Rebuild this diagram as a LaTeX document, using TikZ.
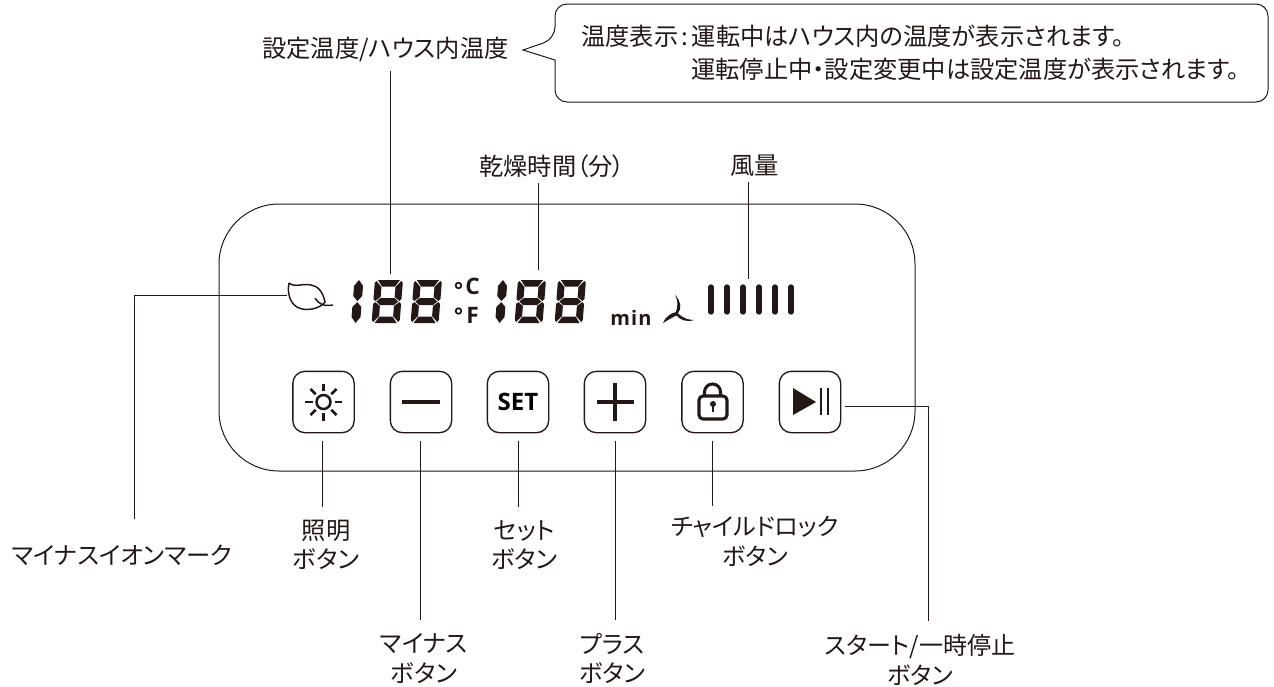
\documentclass[tikz,border=0pt]{standalone}
\usepackage{fontspec}
\setmainfont{Noto Sans CJK JP}[RawFeature=+palt]
\newfontfamily\panelfont{Open Sans}[BoldFont=* Bold]
\usetikzlibrary{positioning}

\definecolor{ink}{RGB}{35,24,21}

% one tall segment pair and a whole figure of the display
\newcommand{\lcdone}[1]{
	\begin{scope}[shift={(#1,280)},xslant=0.08]
		\fill[ink] (6,0) -- (10.5,6) -- (10.5,16) -- (6,21) -- (1.5,16) -- (1.5,6) -- cycle;
		\fill[ink] (6,22) -- (10.5,27) -- (10.5,37) -- (6,43) -- (1.5,37) -- (1.5,27) -- cycle;
	\end{scope}
}
\newcommand{\lceight}[1]{
	\begin{scope}[shift={(#1,280)},xslant=0.08]
		\fill[ink] (3,0) -- (25,0) -- (20.5,6.5) -- (7.5,6.5) -- cycle;
		\fill[ink] (3,43) -- (25,43) -- (20.5,36.5) -- (7.5,36.5) -- cycle;
		\fill[ink] (3,21.5) -- (7,18) -- (21,18) -- (25,21.5) -- (21,25) -- (7,25) -- cycle;
		\fill[ink] (1.5,1) -- (7,7) -- (7,17) -- (2,20.9) -- (0,19) -- (0,3) -- cycle;
		\fill[ink] (26.5,1) -- (21,7) -- (21,17) -- (26,20.9) -- (28,19) -- (28,3) -- cycle;
		\fill[ink] (1.5,42) -- (7,36) -- (7,26) -- (2,22.1) -- (0,24) -- (0,40) -- cycle;
		\fill[ink] (26.5,42) -- (21,36) -- (21,26) -- (26,22.1) -- (28,24) -- (28,40) -- cycle;
	\end{scope}
}

\begin{document}
\begin{tikzpicture}[x=0.75pt,y=-0.75pt,
	lead/.style={draw=ink,line width=0.75pt},
	btn/.style={draw=ink,line width=1pt,rounded corners=9pt,minimum size=46pt,inner sep=0pt},
	icon/.style={draw=ink,line width=2.3pt},
	lbl/.style={text=ink,font=\fontsize{18.2}{22}\selectfont,align=center,inner sep=0pt},
	note/.style={text=ink,font=\fontsize{18.2}{22}\selectfont,anchor=west,inner sep=0pt},
	lcdtext/.style={text=ink,inner sep=0pt}]
	
	\useasboundingbox (0,0) rectangle (1274,686);
	
	% panel and note
	\draw[lead,rounded corners=45pt] (219,204) rectangle (915,471);
	\draw[lead,rounded corners=9pt] (555,60) -- (555,102) -- (1268,102) -- (1268,4) -- (555,4) -- (555,39)
	[sharp corners] -- (523,50) -- cycle;
	\node[note] (noteA) at (581,36) {温度表示\kern2.5pt:\kern2.5pt 運転中はハウス内の温度が表示されます。};
	\node[note] (noteB) at (691,69) {運転停止中・設定変更中は設定温度が表示されます。};
	
	% labels
	\node[lbl] (lblTemp) at (385.5,49) {設定温度/ハウス内温度};
	\node[lbl] (lblTime) at (552,166) {乾燥時間（分）};
	\node[lbl] (lblWind) at (754.5,166) {風量};
	\node[lbl] (lblIon) at (122,555) {マイナスイオンマーク};
	\node[lbl] (lblLight) at (326,545) {照明\\ボタン};
	\node[lbl] (lblMinus) at (424,658.5) {マイナス\\ボタン};
	\node[lbl] (lblSet) at (524.5,545) {セット\\ボタン};
	\node[lbl] (lblPlus) at (612.5,658.5) {プラス\\ボタン};
	\node[lbl,font=\fontsize{18}{22.5}\selectfont] (lblLock) at (755,541) {チャイルドロック\\ボタン};
	\node[lbl,font=\fontsize{18}{22.5}\selectfont] (lblStart) at (920,660) {スタート/一時停止\\ボタン};
	
	% buttons
	\node[btn] (btnLight) at (323.5,402) {};
	\node[btn] (btnMinus) at (421,402) {};
	\node[btn] (btnSet) at (518,402) {\panelfont\bfseries\fontsize{18}{18}\selectfont SET};
	\node[btn] (btnPlus) at (615,402) {};
	\node[btn] (btnLock) at (712.5,402) {};
	\node[btn] (btnStart) at (810,402) {};
	
	% icons on the buttons
	\draw[icon,line width=1.9pt] (btnLight.center) circle (7);
	\foreach \ang in {0,45,...,315}
		\draw[icon,line width=1.9pt] (btnLight.center) ++(\ang:11) -- ++(\ang:7.5);
	\draw[icon] (401.5,402) -- (440,402);
	\draw[icon] (597,402) -- (634,402);
	\draw[icon] (615,383) -- (615,421);
	\draw[icon,rounded corners=3pt] (699,396) rectangle (727,419);
	\draw[icon] (704.5,396) -- (704.5,392) arc[start angle=180,end angle=0,x radius=8,y radius=-8] -- (720.5,396);
	\fill[ink] (713,404) circle (3);
	\draw[icon,line width=2pt] (713,404) -- (713,412);
	\fill[ink] (793,388) -- (816,402) -- (793,415) -- cycle;
	\foreach \xx in {821,828}
		\draw[icon,line width=2.2pt] (\xx,388) -- (\xx,415);
	
	% display
	\lcdone{353} \lceight{375} \lceight{414}
	\lcdone{497} \lceight{518} \lceight{558}
	\draw[ink,line width=1.3pt] (458.5,285.5) circle (2.8);
	\draw[ink,line width=1.3pt] (458.5,311) circle (2.8);
	\node[lcdtext,font=\panelfont\bfseries\fontsize{17}{17}\selectfont] (unitC) at (472.5,286.5) {C};
	\node[lcdtext,font=\panelfont\bfseries\fontsize{17}{17}\selectfont] (unitF) at (472.5,315.5) {F};
	\node[lcdtext,font=\panelfont\bfseries\fontsize{15}{15}\selectfont] (unitMin) at (631,318) {m\kern.8pt i\kern.8pt n};
	\foreach \xx in {711,727,743,759,775,791}
		\draw[ink,line width=4pt,line cap=round] (\xx,287) -- (\xx,312);
	
	% fan
	\fill[ink] (675,295) .. controls (681,301) and (682,308) .. (678,313.5) .. controls (683,318) and (688,320) .. (694,320) .. controls (687,322.5) and (680,320) .. (676.5,315.5) .. controls (672,317.5) and (668,320) .. (663,323) .. controls (665,317) and (671,313) .. (676,312) .. controls (678,306) and (678,300) .. (675,295) -- cycle;
	
	% leaf
	\draw[ink,line width=1.1pt] (289,283) .. controls (295,288) and (303,283) .. (311,285) .. controls (318,286) and (323,292) .. (325,302) .. controls (320,309) and (305,312) .. (297,307) .. controls (290,303) and (287,293) .. (289,283);
	\draw[ink,line width=1.1pt] (315,298) .. controls (318,303) and (323,307) .. (333,305);
	
	% connectors
	\coordinate (leaf) at (287,295);
	\coordinate (ionBend) at (134,295);
	\coordinate (tempEnd) at (390,274);
	\coordinate (timeEnd) at (538,270);
	\coordinate (windEnd) at (748,279);
	\coordinate (startBend) at (928,406);
	
	\draw[lead,shorten >=19pt] (leaf) -- (ionBend) -- (ionBend |- lblIon.north);
	\draw[lead,shorten <=7pt] (lblTemp.south -| tempEnd) -- (tempEnd);
	\draw[lead,shorten <=4pt] (lblTime.south -| timeEnd) -- (timeEnd);
	\draw[lead,shorten <=4pt] (lblWind.south -| windEnd) -- (windEnd);
	\draw[lead,shorten <=6pt,shorten >=10pt] (btnLight.south -| 322,0) -- (lblLight.north -| 322,0);
	\draw[lead,shorten <=6pt,shorten >=10pt] (btnMinus.south -| 420,0) -- (lblMinus.north -| 420,0);
	\draw[lead,shorten <=6pt,shorten >=10pt] (btnSet.south) -- (btnSet.south |- lblSet.north);
	\draw[lead,shorten <=6pt,shorten >=10pt] (btnPlus.south) -- (btnPlus.south |- lblPlus.north);
	\draw[lead,shorten <=6pt,shorten >=7pt] (btnLock.south) -- (btnLock.south |- lblLock.north);
	\draw[lead,shorten <=3pt,shorten >=10pt] (btnStart.east |- startBend) -- (startBend) -- (startBend |- lblStart.north);
\end{tikzpicture}
\end{document}
